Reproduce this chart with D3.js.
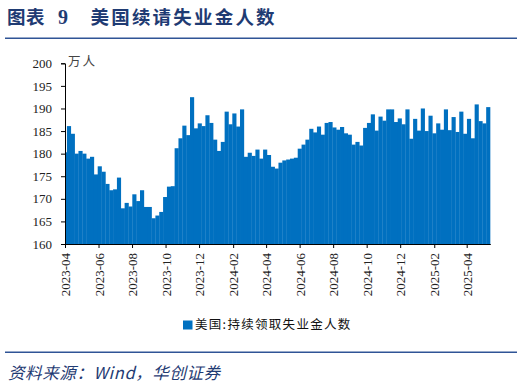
<!DOCTYPE html>
<html><head><meta charset="utf-8">
<script src="https://cdn.jsdelivr.net/npm/d3@7"></script>
<style>
html,body{margin:0;padding:0;background:#fff;}
svg{display:block;}
</style></head>
<body>
<svg id="c" width="524" height="387"></svg>
<script>
// Week-ending dates (Saturdays)
const weeks = [
"2023-04-01","2023-04-08","2023-04-15","2023-04-22","2023-04-29","2023-05-06","2023-05-13","2023-05-20","2023-05-27",
"2023-06-03","2023-06-10","2023-06-17","2023-06-24","2023-07-01","2023-07-08","2023-07-15","2023-07-22","2023-07-29",
"2023-08-05","2023-08-12","2023-08-19","2023-08-26","2023-09-02","2023-09-09","2023-09-16","2023-09-23","2023-09-30",
"2023-10-07","2023-10-14","2023-10-21","2023-10-28","2023-11-04","2023-11-11","2023-11-18","2023-11-25","2023-12-02",
"2023-12-09","2023-12-16","2023-12-23","2023-12-30",
"2024-01-06","2024-01-13","2024-01-20","2024-01-27","2024-02-03","2024-02-10","2024-02-17","2024-02-24","2024-03-02",
"2024-03-09","2024-03-16","2024-03-23","2024-03-30","2024-04-06","2024-04-13","2024-04-20","2024-04-27","2024-05-04",
"2024-05-11","2024-05-18","2024-05-25","2024-06-01","2024-06-08","2024-06-15","2024-06-22","2024-06-29","2024-07-06",
"2024-07-13","2024-07-20","2024-07-27","2024-08-03","2024-08-10","2024-08-17","2024-08-24","2024-08-31","2024-09-07",
"2024-09-14","2024-09-21","2024-09-28","2024-10-05","2024-10-12","2024-10-19","2024-10-26","2024-11-02","2024-11-09",
"2024-11-16","2024-11-23","2024-11-30","2024-12-07","2024-12-14","2024-12-21","2024-12-28",
"2025-01-04","2025-01-11","2025-01-18","2025-01-25","2025-02-01","2025-02-08","2025-02-15","2025-02-22","2025-03-01",
"2025-03-08","2025-03-15","2025-03-22","2025-03-29","2025-04-05","2025-04-12","2025-04-19","2025-04-26","2025-05-03",
"2025-05-10"
];
// 美国:持续领取失业金人数 (万人)
const claims = [
180.3,186.1,184.4,180.0,180.6,180.0,178.9,179.3,175.4,177.2,176.0,173.3,171.9,172.1,174.7,167.9,169.1,168.3,
171.0,169.5,171.9,168.2,168.2,165.7,166.3,167.1,170.4,172.7,172.8,181.2,183.4,186.2,184.1,192.5,185.6,186.7,
186.1,188.5,186.8,183.1,180.6,182.6,189.3,186.5,188.9,186.0,189.8,179.3,180.2,179.5,180.9,178.9,180.9,179.7,
177.1,176.7,178.0,178.5,178.7,178.9,179.1,181.1,182.0,183.1,185.5,184.7,186.0,184.2,186.8,187.0,185.8,185.3,
185.9,184.5,184.2,182.0,182.6,181.8,185.7,186.8,188.7,185.1,188.2,187.3,189.8,189.8,187.0,187.8,186.5,189.8,
183.3,187.7,185.1,190.0,185.0,188.4,184.5,186.7,185.3,189.8,185.2,188.1,184.8,189.3,184.4,187.7,183.4,190.9,
187.2,186.7,190.3
];
const yTicks = [160,165,170,175,180,185,190,195,200];
const xTickLabels = ["2023-04","2023-06","2023-08","2023-10","2023-12","2024-02","2024-04","2024-06","2024-08","2024-10","2024-12","2025-02","2025-04"];
const seriesName = "美国:持续领取失业金人数";
const unitLabel = "万人";
const titleLeft = "图表";
const titleNum = "9";
const titleText = "美国续请失业金人数";
const sourceText = "资料来源：Wind，华创证券";

const svg = d3.select("#c");
const parse = d3.utcParse("%Y-%m-%d");
const data = weeks.map((w,i)=>({date:parse(w), v:claims[i]}));

const x0 = 65, x1 = 490.3, yTop = 63.3, yBot = 244;
const x = d3.scaleUtc().domain([parse("2023-04-01"), parse("2025-05-14")]).range([x0, x1]);
const y = d3.scaleLinear().domain([160,200]).range([yBot, yTop]);
const bw = x(parse("2023-04-08")) - x(parse("2023-04-01"));

// title
const title = svg.append("g").attr("font-family","'Noto Sans CJK SC'").attr("font-weight","bold").attr("fill","#1f3b73").attr("font-size","18.5px");
title.append("text").attr("x",7).attr("y",24).attr("letter-spacing","0.5px").text(titleLeft);
title.append("text").attr("x",58).attr("y",24).attr("font-family","'Liberation Serif'").attr("font-size","20px").text(titleNum);
title.append("text").attr("x",90.5).attr("y",24).attr("letter-spacing","2.2px").text(titleText);
svg.append("line").attr("x1",5).attr("x2",517).attr("y1",38.3).attr("y2",38.3).attr("stroke","#2f5496").attr("stroke-width",1.6);

// clip
svg.append("clipPath").attr("id","pc").append("rect").attr("x",x0).attr("y",0).attr("width",x1-x0+2).attr("height",yBot);

svg.append("g").attr("clip-path","url(#pc)").selectAll("rect").data(data).join("rect")
  .attr("x",d=>x(d.date)-bw/2).attr("width",bw+0.3)
  .attr("y",d=>y(d.v)).attr("height",d=>yBot-y(d.v))
  .attr("fill","#0070c0");

// y axis
const ya = svg.append("g").attr("transform",`translate(${x0},0)`)
  .call(d3.axisLeft(y).tickValues(yTicks).tickSize(4).tickPadding(9).tickFormat(d3.format("d")));
ya.select(".domain").attr("stroke","#000");
ya.selectAll(".tick line").attr("stroke","#000");
ya.selectAll("text").attr("font-family","'Liberation Serif'").attr("font-size","13px").attr("fill","#222");

// x axis
const xa = svg.append("g").attr("transform",`translate(0,${yBot})`)
  .call(d3.axisBottom(x).tickValues(xTickLabels.map(s=>parse(s+"-01"))).tickSize(4).tickSizeOuter(0).tickFormat(d3.utcFormat("%Y-%m")));
xa.select(".domain").attr("stroke","#000");
xa.selectAll(".tick line").attr("stroke","#000");
xa.selectAll("text").attr("font-family","'Liberation Serif'").attr("font-size","13px").attr("fill","#222")
  .attr("transform","rotate(-90)").attr("text-anchor","end").attr("x",-9).attr("y",0).attr("dy","0.35em");

// unit
svg.append("text").attr("x",68).attr("y",66).attr("font-family","'Noto Sans CJK SC'").attr("font-size","12.5px").attr("fill","#444").attr("letter-spacing","2px").text(unitLabel);

// legend
svg.append("rect").attr("x",183).attr("y",320.5).attr("width",9.5).attr("height",9).attr("fill","#0070c0");
svg.append("text").attr("x",195).attr("y",325).attr("dy","0.35em").attr("font-family","'Noto Sans CJK SC'").attr("font-size","12.5px").attr("fill","#111").attr("letter-spacing","1.3px").text(seriesName);

// bottom line + source
svg.append("line").attr("x1",5).attr("x2",517).attr("y1",352.3).attr("y2",352.3).attr("stroke","#2f5496").attr("stroke-width",1.6);
svg.append("text").attr("x",8).attr("y",379).attr("font-family","'Noto Sans CJK SC'").attr("font-style","italic").attr("font-size","16.5px").attr("fill","#1f3b73").attr("letter-spacing","0.6px").text(sourceText);
</script>
</body></html>
